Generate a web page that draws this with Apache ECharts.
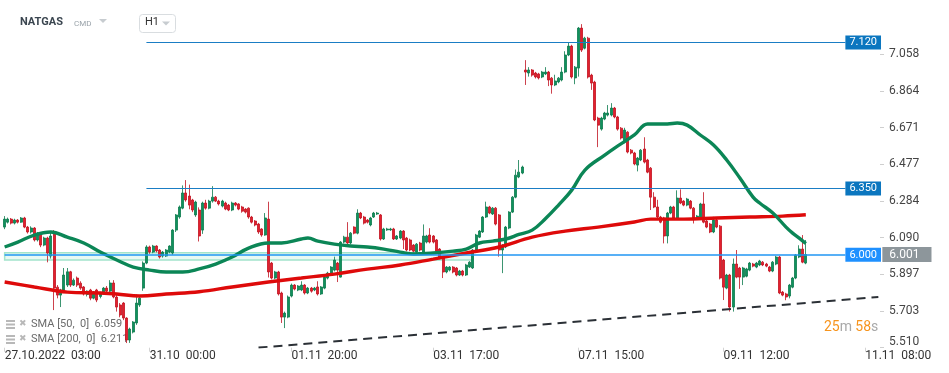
<!DOCTYPE html>
<html><head><meta charset="utf-8">
<script src="https://cdn.jsdelivr.net/npm/echarts@6/dist/echarts.min.js"></script>
<style>html,body{margin:0;padding:0;background:#fff}#c{width:949px;height:373px}</style>
</head><body><div id="c"></div>
<script>
// ---------- data ----------
const slotCount = 266;
const xTickIndex = [0, 44, 87, 130, 174, 218, 261];
const xTickText = ['27.10.2022  03:00', '31.10  00:00', '01.11  20:00', '03.11  17:00', '07.11  15:00', '09.11  12:00', '11.11  08:00'];
const yTickText = ['5.510', '5.703', '5.897', '6.090', '6.284', '6.477', '6.671', '6.864', '7.058'];
const yTickValues = [5.5095, 5.703, 5.8965, 6.090, 6.2835, 6.477, 6.6705, 6.864, 7.0575];

// [open, close, low, high]
const candles = [
[6.146,6.188,6.135,6.204],[6.172,6.188,6.165,6.196],[6.188,6.167,6.160,6.194],[6.167,6.183,6.160,6.190],[6.183,6.172,6.165,6.188],
[6.172,6.194,6.168,6.199],[6.194,6.146,6.140,6.200],[6.146,6.120,6.112,6.152],[6.120,6.141,6.112,6.150],[6.141,6.078,6.070,6.146],
[6.078,6.114,6.070,6.120],[6.114,6.051,6.040,6.120],[6.051,6.088,6.045,6.095],[6.088,6.009,5.960,6.095],[5.993,6.099,5.980,6.120],
[6.120,5.824,5.708,6.130],[5.829,5.787,5.770,5.840],[5.787,5.814,5.724,5.820],[5.814,5.893,5.800,5.930],[5.840,5.910,5.830,5.930],
[5.910,5.840,5.830,5.915],[5.840,5.866,5.835,5.875],[5.877,5.840,5.830,5.885],[5.850,5.824,5.815,5.860],[5.830,5.793,5.785,5.835],
[5.790,5.808,5.780,5.812],[5.814,5.771,5.760,5.820],[5.771,5.803,5.765,5.808],[5.814,5.761,5.750,5.820],[5.780,5.800,5.770,5.805],
[5.795,5.824,5.790,5.830],[5.824,5.808,5.800,5.835],[5.808,5.851,5.800,5.866],[5.851,5.777,5.770,5.866],[5.777,5.724,5.700,5.790],
[5.735,5.682,5.670,5.745],[5.745,5.666,5.655,5.750],[5.666,5.550,5.534,5.670],[5.550,5.608,5.535,5.615],[5.592,5.645,5.585,5.650],
[5.640,5.745,5.630,5.790],[5.735,5.771,5.725,5.780],[5.824,5.956,5.810,5.965],
[5.956,6.041,5.950,6.050],[6.041,6.014,6.005,6.048],[6.014,6.046,6.008,6.052],[6.046,6.020,6.012,6.050],[6.025,5.988,5.980,6.030],
[5.993,6.014,5.985,6.020],[5.993,6.025,5.988,6.030],[6.014,6.046,6.008,6.050],[6.009,6.130,6.000,6.135],[6.130,6.210,6.120,6.215],
[6.199,6.252,6.190,6.260],[6.246,6.326,6.240,6.366],[6.326,6.289,6.280,6.394],[6.310,6.262,6.240,6.370],[6.289,6.236,6.225,6.295],
[6.210,6.278,6.200,6.285],[6.236,6.099,6.070,6.250],[6.130,6.273,6.110,6.280],[6.273,6.246,6.238,6.290],[6.246,6.283,6.240,6.290],
[6.283,6.304,6.275,6.362],[6.304,6.283,6.278,6.310],[6.283,6.268,6.260,6.290],[6.257,6.283,6.250,6.290],[6.273,6.241,6.235,6.280],
[6.262,6.236,6.230,6.268],[6.236,6.273,6.230,6.280],[6.273,6.262,6.255,6.278],[6.268,6.241,6.235,6.272],[6.252,6.230,6.222,6.258],
[6.241,6.225,6.218,6.246],[6.246,6.199,6.190,6.250],[6.199,6.172,6.165,6.205],[6.178,6.157,6.150,6.183],[6.162,6.120,6.110,6.168],
[6.136,6.104,6.095,6.140],[6.104,6.194,6.100,6.220],[6.188,5.909,5.880,6.280],[5.956,5.877,5.870,5.962],[5.877,5.909,5.870,5.915],
[5.909,5.793,5.785,5.915],[5.798,5.671,5.640,5.805],[5.671,5.692,5.613,5.700],[5.671,5.777,5.665,5.785],[5.782,5.840,5.775,5.848],
[5.840,5.819,5.812,5.845],[5.814,5.835,5.808,5.840],[5.814,5.840,5.808,5.860],[5.840,5.798,5.790,5.845],[5.798,5.824,5.792,5.830],
[5.824,5.808,5.800,5.830],[5.814,5.824,5.808,5.830],[5.830,5.793,5.785,5.860],[5.793,5.830,5.788,5.835],[5.824,5.882,5.818,5.888],
[5.877,5.903,5.870,5.910],[5.893,5.935,5.888,5.940],[5.919,5.972,5.912,5.990],[5.956,5.919,5.856,5.962],[5.882,6.067,5.880,6.072],
[6.067,6.093,6.060,6.100],[6.093,6.062,6.055,6.172],[6.062,6.114,6.055,6.120],[6.146,6.114,6.108,6.150],[6.114,6.220,6.108,6.240],
[6.220,6.194,6.188,6.226],[6.199,6.167,6.160,6.205],[6.183,6.172,6.165,6.188],[6.157,6.194,6.150,6.200],[6.199,6.220,6.194,6.226],
[6.215,6.220,6.210,6.226],[6.210,6.083,6.075,6.215],[6.083,6.136,6.078,6.142],[6.131,6.136,6.126,6.142],[6.131,6.136,6.126,6.142],
[6.136,6.083,6.078,6.142],[6.083,6.099,6.078,6.104],[6.088,6.125,6.082,6.130],[6.125,6.078,6.030,6.130],[6.088,6.025,6.018,6.094],
[6.078,6.025,6.018,6.085],[6.051,6.019,6.012,6.056],[6.014,6.056,6.008,6.062],[6.062,6.025,6.018,6.068],[6.009,6.099,6.002,6.160],
[6.067,6.099,6.060,6.105],[6.104,6.067,6.060,6.140],[6.099,6.067,6.060,6.104],[6.078,6.019,6.012,6.083],[6.030,5.983,5.976,6.035],
[5.983,5.909,5.877,5.988],[5.909,5.935,5.902,5.940],[5.919,5.935,5.912,5.940],[5.935,5.909,5.902,5.940],[5.930,5.893,5.886,5.935],
[5.893,5.914,5.888,5.920],[5.914,5.893,5.886,5.920],[5.893,5.946,5.888,5.952],[5.935,5.961,5.930,5.966],[5.930,6.025,5.925,6.030],
[6.025,6.104,6.020,6.110],[6.093,6.125,6.088,6.130],[6.120,6.199,6.115,6.204],[6.199,6.252,6.194,6.280],[6.252,6.220,6.214,6.258],
[6.215,6.246,6.210,6.252],[6.246,6.162,6.155,6.252],[6.210,6.025,5.990,6.215],[6.025,6.051,5.903,6.056],[6.041,6.146,6.035,6.152],
[6.141,6.225,6.135,6.230],[6.225,6.304,6.220,6.310],[6.304,6.420,6.298,6.450],[6.410,6.436,6.404,6.500],[6.431,6.463,6.425,6.470],
[6.975,6.964,6.896,7.027],[6.959,6.975,6.940,6.990],[6.975,6.948,6.940,6.980],[6.959,6.938,6.930,6.965],[6.954,6.933,6.925,6.960],
[6.938,6.964,6.932,6.970],[6.954,6.964,6.948,6.990],[6.964,6.922,6.890,6.970],[6.932,6.896,6.850,6.938],[6.896,6.917,6.890,6.950],
[6.912,6.932,6.905,6.938],[6.922,6.964,6.915,6.990],[6.964,7.054,6.958,7.074],[7.054,7.101,7.048,7.120],[7.101,6.938,6.930,7.108],
[6.933,6.990,6.900,6.996],[6.985,7.196,6.940,7.202],[7.196,7.080,7.070,7.217],[7.090,7.143,7.084,7.150],[7.143,6.938,6.930,7.150],
[6.948,6.906,6.870,6.955],[6.911,6.711,6.705,6.918],[6.721,6.684,6.568,6.728],[6.663,6.721,6.655,6.728],[6.716,6.748,6.710,6.754],
[6.737,6.748,6.730,6.790],[6.737,6.774,6.730,6.800],[6.774,6.727,6.720,6.780],[6.727,6.663,6.655,6.733],[6.668,6.616,6.608,6.674],
[6.595,6.658,6.588,6.670],[6.647,6.542,6.535,6.652],[6.552,6.537,6.530,6.558],[6.537,6.479,6.472,6.543],[6.473,6.510,6.440,6.516],
[6.500,6.552,6.494,6.558],[6.558,6.489,6.482,6.620],[6.500,6.436,6.430,6.506],[6.457,6.304,6.236,6.463],[6.304,6.252,6.246,6.330],
[6.252,6.199,6.193,6.290],[6.199,6.172,6.166,6.205],[6.194,6.099,6.060,6.200],[6.099,6.220,6.060,6.226],[6.220,6.252,6.214,6.258],
[6.252,6.194,6.188,6.258],[6.194,6.299,6.188,6.340],[6.299,6.273,6.267,6.345],[6.283,6.262,6.256,6.288],[6.262,6.294,6.256,6.300],
[6.283,6.246,6.240,6.289],[6.246,6.194,6.165,6.252],[6.194,6.204,6.188,6.210],[6.194,6.268,6.188,6.274],[6.268,6.172,6.166,6.330],
[6.178,6.146,6.140,6.184],[6.162,6.120,6.114,6.168],[6.120,6.183,6.114,6.200],[6.183,6.146,6.140,6.189],[6.151,5.877,5.870,6.157],
[5.972,5.829,5.761,5.978],[5.824,5.893,5.818,5.899],[5.893,5.724,5.700,5.899],[5.724,5.951,5.700,5.980],[5.951,5.882,5.876,6.025],
[5.930,5.882,5.820,5.936],[5.882,5.930,5.840,5.936],[5.887,5.925,5.881,5.931],[5.919,5.956,5.913,5.962],[5.951,5.940,5.934,5.957],
[5.935,5.956,5.929,5.962],[5.946,5.967,5.940,5.973],[5.961,5.946,5.940,5.967],[5.951,5.940,5.934,5.957],[5.935,5.914,5.908,5.941],
[5.914,5.961,5.908,5.967],[5.951,5.988,5.945,5.994],[5.988,5.798,5.792,5.994],[5.803,5.787,5.781,5.809],[5.793,5.777,5.760,5.799],
[5.782,5.840,5.770,5.846],[5.829,5.877,5.823,5.883],[5.877,5.998,5.871,6.004],[5.988,6.030,5.982,6.050],[6.030,5.961,5.955,6.104],
[5.956,6.001,5.950,6.078]
];

// moving averages: [slot, value]
const sma50 = [
[0,6.041],[4,6.067],[9,6.104],[14,6.120],[19,6.093],[24,6.062],[29,6.014],[34,5.972],[39,5.935],[44,5.919],
[49,5.909],[54,5.909],[59,5.925],[64,5.951],[69,5.988],[74,6.035],[80,6.062],[84,6.062],[90,6.083],[92,6.088],
[95,6.072],[100,6.056],[105,6.046],[110,6.041],[115,6.030],[120,6.014],[124,6.004],[130,6.009],[136,6.019],[140,6.030],
[144,6.062],[148,6.072],[152,6.083],[156,6.107],[160,6.130],[164,6.190],[168,6.262],[172,6.341],[176,6.447],[182,6.526],
[185,6.563],[191,6.632],[195,6.690],[201,6.690],[204,6.695],[207,6.684],[211,6.632],[215,6.579],[219,6.500],[223,6.405],
[227,6.304],[229,6.273],[233,6.220],[237,6.146],[239,6.114],[241,6.088],[243,6.059]
];
const sma200 = [
[0,5.856],[9,5.830],[19,5.803],[29,5.798],[34,5.793],[41,5.782],[49,5.793],[59,5.805],[69,5.830],[80,5.856],
[90,5.877],[100,5.898],[110,5.924],[120,5.946],[130,5.977],[140,6.009],[150,6.041],[160,6.093],[170,6.125],[180,6.146],
[191,6.173],[196,6.188],[206,6.188],[216,6.194],[226,6.199],[236,6.204],[243,6.211]
];
const trendLine = [[77, 5.51], [265, 5.777]];
const levelLines = [7.12, 6.35, 6.0];
const levelStart = [43, 43, 0];
const levelEnd = 255;
const bandRange = [6.011, 5.972];
const bandSlots = [0, 142];
const smaLegend = ['SMA [50,  0]  6.059', 'SMA [200,  0]  6.211'];

// ---------- chart ----------
const categories = Array.from({length: slotCount}, (_, i) => String(i));
const lastClose = candles[candles.length - 1][1];
const chart = echarts.init(document.getElementById('c'), null, {renderer: 'canvas'});
const FONT = 'Roboto';

const levelColors = ['#1a7dc4', '#1a7dc4', '#2196f3'];
const levelBox = ['#0b76bf', '#0b76bf', '#1e90ff'];

const markLineData = levelLines.map((v, k) => [
  {coord: [levelStart[k], v], lineStyle: {color: levelColors[k], width: k === 2 ? 1.6 : 1.2, type: 'solid'},
   label: {show: true, position: 'end', distance: 0, formatter: v.toFixed(3), color: '#fff',
           backgroundColor: levelBox[k], padding: [2, 4, 1, 4], fontSize: 11, fontFamily: FONT}},
  {coord: [levelEnd, v]}
]);
markLineData.push([
  {coord: [0, lastClose], lineStyle: {color: 'rgba(0,0,0,0)', width: 1},
   label: {show: true, position: 'end', distance: 4, formatter: lastClose.toFixed(3), color: '#fff',
           backgroundColor: '#8d969b', padding: [2, 12, 1, 7], fontSize: 12, fontFamily: FONT}},
  {coord: [slotCount - 1, lastClose]}
]);

const option = {
  animation: false,
  textStyle: {fontFamily: FONT},
  grid: {left: 3, right: 69, top: 8.4, bottom: 25.3},
  xAxis: {
    type: 'category', data: categories, boundaryGap: true,
    axisLine: {show: false},
    axisTick: {show: true, alignWithLabel: true, length: 4, lineStyle: {color: '#d4d4d4'},
               interval: (i) => xTickIndex.includes(i)},
    axisLabel: {interval: (i) => xTickIndex.includes(i),
                formatter: (v, i) => { const k = xTickIndex.indexOf(i); return k >= 0 ? xTickText[k] : ''; },
                align: 'left', color: '#333', fontSize: 12, fontFamily: FONT, margin: 2},
    splitLine: {show: false}
  },
  yAxis: {
    type: 'value', position: 'right', min: 5.5095, max: 7.3,
    axisLine: {show: false},
    axisTick: {show: true, length: 4, lineStyle: {color: '#cfcfcf'}, customValues: yTickValues},
    splitLine: {show: false},
    axisLabel: {
      customValues: yTickValues,
      margin: 9, color: '#444', fontSize: 12, fontFamily: FONT, align: 'left',
      formatter: (v) => {
        let k = 0, best = 1e9;
        yTickValues.forEach((t, i) => { const d = Math.abs(t - v); if (d < best) { best = d; k = i; } });
        if (best > 0.01) return '';
        return k === 0 ? '{low|' + yTickText[k] + '}' : yTickText[k];
      },
      rich: {low: {padding: [0, 0, 11, 0], fontSize: 12, color: '#444', fontFamily: FONT}}
    }
  },
  series: [
    {
      type: 'line', data: [], z: 1, silent: true,
      markArea: {silent: true, itemStyle: {color: 'rgba(190,238,220,0.35)', borderColor: '#a3e4cb', borderWidth: 1.5},
                 data: [[{coord: [bandSlots[0], bandRange[0]]}, {coord: [bandSlots[1], bandRange[1]]}]]},
      markLine: {silent: true, symbol: 'none', animation: false, data: markLineData}
    },
    {
      type: 'candlestick', data: candles, z: 3, barWidth: 2.5,
      itemStyle: {color: '#10915d', color0: '#e3202e', borderColor: '#0b7a4d', borderColor0: '#c0121f', borderWidth: 0.8}
    },
    {type: 'line', data: sma200, smooth: 0.4, symbol: 'none', z: 4, lineStyle: {color: '#de0a0a', width: 3.4}},
    {type: 'line', data: sma50, smooth: 0.4, symbol: 'none', z: 4, lineStyle: {color: '#0b8656', width: 3.4}},
    {type: 'line', data: trendLine, symbol: 'none', z: 4, lineStyle: {color: '#2b3036', width: 2, type: [9, 6]}}
  ],
  graphic: [
    {type: 'text', left: 20, top: 17, style: {text: 'NATGAS', fill: '#3b4650', font: 'bold 11px Roboto'}},
    {type: 'text', left: 74, top: 19.5, style: {text: 'CMD', fill: '#9aa3aa', font: '8px Roboto'}},
    {type: 'polygon', shape: {points: [[99, 19], [107, 19], [103, 23]]}, style: {fill: '#c7ccd0'}},
    {type: 'rect', shape: {x: 139.5, y: 14.5, width: 36, height: 18, r: 3}, style: {fill: '#fff', stroke: '#d9dde0', lineWidth: 1}},
    {type: 'text', left: 145, top: 17, style: {text: 'H1', fill: '#333', font: '11px Roboto'}},
    {type: 'polygon', shape: {points: [[162, 21.5], [170, 21.5], [166, 25.5]]}, style: {fill: '#c7ccd0'}},
    {type: 'rect', shape: {x: 6, y: 320, width: 9, height: 2}, style: {fill: '#b8b8b8'}},
    {type: 'rect', shape: {x: 6, y: 323.5, width: 9, height: 2}, style: {fill: '#b8b8b8'}},
    {type: 'rect', shape: {x: 6, y: 327, width: 9, height: 2}, style: {fill: '#b8b8b8'}},
    {type: 'text', left: 19, top: 319, style: {text: '✖', fill: '#b8b8b8', font: '9px DejaVu Sans'}},
    {type: 'text', left: 31, top: 319, style: {text: smaLegend[0], fill: '#6b6b6b', font: '11px Roboto'}},
    {type: 'rect', shape: {x: 6, y: 335, width: 9, height: 2}, style: {fill: '#b8b8b8'}},
    {type: 'rect', shape: {x: 6, y: 338.5, width: 9, height: 2}, style: {fill: '#b8b8b8'}},
    {type: 'rect', shape: {x: 6, y: 342, width: 9, height: 2}, style: {fill: '#b8b8b8'}},
    {type: 'text', left: 19, top: 334, style: {text: '✖', fill: '#b8b8b8', font: '9px DejaVu Sans'}},
    {type: 'text', left: 31, top: 334, style: {text: smaLegend[1], fill: '#6b6b6b', font: '11px Roboto'}},
    {type: 'text', left: 824, top: 320, style: {
      text: '{o|25}{g|m} {o|58}{g|s}',
      rich: {o: {fill: '#f7941d', font: '14px Roboto'}, g: {fill: '#a8a8a8', font: '14px Roboto'}}}}
  ]
};
chart.setOption(option);
</script>
</body></html>
